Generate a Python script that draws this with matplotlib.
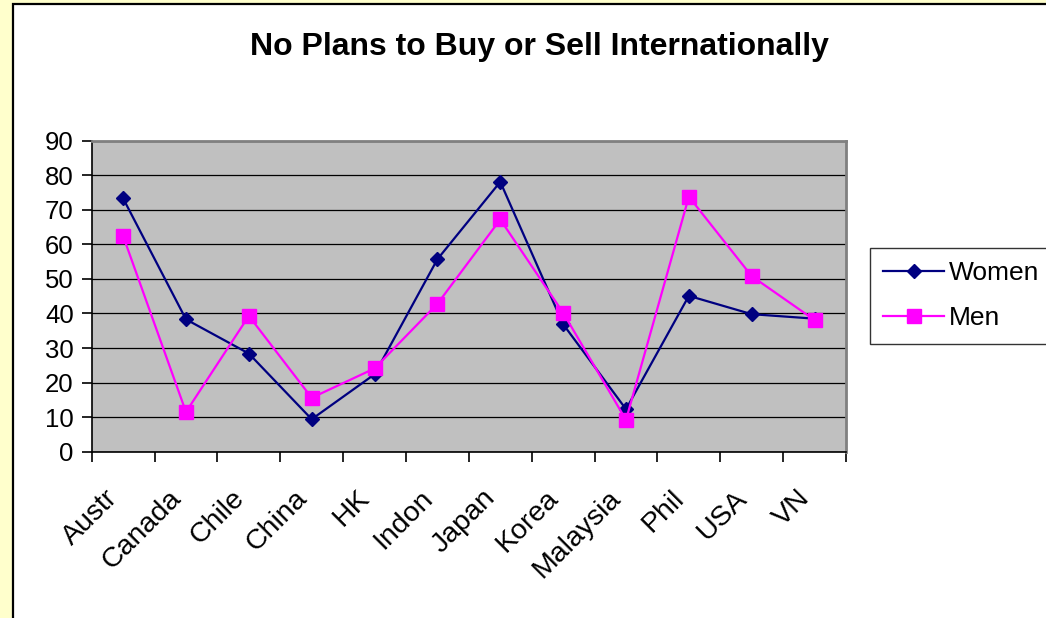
import matplotlib
matplotlib.use("Agg")
import matplotlib.pyplot as plt
from matplotlib.patches import Rectangle
from matplotlib.transforms import ScaledTranslation
import numpy as np

plt.rcParams['font.family'] = ['Liberation Sans', 'DejaVu Sans']

countries = ["Austr", "Canada", "Chile", "China", "HK", "Indon", "Japan",
             "Korea", "Malaysia", "Phil", "USA", "VN"]
women = [73.3, 38.3, 28.4, 9.4, 22.4, 55.7, 78.1, 36.9, 12.3, 45.1, 39.8, 38.5]
men = [62.4, 11.5, 39.3, 15.6, 24.1, 42.8, 67.2, 40.2, 9.2, 73.8, 50.8, 38.1]
y_ticks = [0, 10, 20, 30, 40, 50, 60, 70, 80, 90]

W, H = 1046, 618
fig = plt.figure(figsize=(W / 100, H / 100), dpi=100)
fig.patch.set_facecolor("#FFFFCC")

# white chart panel with dark frame on left and top
bg = fig.add_axes([0, 0, 1, 1], zorder=-10)
bg.set_xlim(0, W)
bg.set_ylim(H, 0)
bg.axis("off")
bg.add_patch(Rectangle((12.5, 4), W + 20, H + 20, facecolor="white",
                       edgecolor="black", linewidth=1.6))

ax = fig.add_axes([91.7 / W, 1 - 451.7 / H, (846 - 91.7) / W, (451.7 - 140.7) / H])
ax.set_facecolor("#C0C0C0")

x = np.arange(len(countries)) + 0.5
ax.plot(x, women, color="#000080", lw=1.6, marker="D", ms=7.5,
        markeredgecolor="#000080", label="Women", zorder=3, clip_on=False)
ax.plot(x, men, color="#FF00FF", lw=1.6, marker="s", ms=9.5,
        markeredgecolor="#FF00FF", label="Men", zorder=3, clip_on=False)

ax.set_xlim(0, len(countries))
ax.set_ylim(0, 90)
ax.set_yticks(y_ticks)
ax.set_yticklabels([str(v) for v in y_ticks], fontsize=18.5)
ax.yaxis.grid(True, color="black", lw=0.9)
ax.set_axisbelow(True)

ax.set_xticks(np.arange(len(countries) + 1))
ax.set_xticklabels([])
ax.set_xticks(x, minor=True)
ax.set_xticklabels(countries, minor=True, rotation=45, ha="right", va="top",
                   rotation_mode="anchor", fontsize=20.5)
ax.tick_params(axis="x", which="minor", length=0, pad=24)
ax.tick_params(axis="x", which="major", length=7, width=1.2, color="black", direction="out")
ax.tick_params(axis="y", length=7, width=1.2, color="black", direction="out", pad=6)

# nudge the rotated category labels to the left of their slots
shift = ScaledTranslation(-18 / 100, 0, fig.dpi_scale_trans)
for lbl in ax.get_xticklabels(minor=True):
    lbl.set_transform(lbl.get_transform() + shift)

for side in ["left", "bottom"]:
    ax.spines[side].set_color("black")
    ax.spines[side].set_linewidth(1.2)
for side in ["top", "right"]:
    ax.spines[side].set_color("#808080")
    ax.spines[side].set_linewidth(2)

fig.text(539 / W, 1 - 47 / H, "No Plans to Buy or Sell Internationally",
         ha="center", va="center", fontsize=23, fontweight="bold")

leg = fig.legend(loc="upper left", bbox_to_anchor=(870 / W, 1 - 248 / H),
                 fontsize=19, frameon=True, fancybox=False, edgecolor="black",
                 handlelength=2.3, handletextpad=0.2, borderpad=0.5, labelspacing=0.8,
                 borderaxespad=0)
leg.get_frame().set_linewidth(1.0)

fig.savefig("out.png", dpi=100, facecolor=fig.get_facecolor())
